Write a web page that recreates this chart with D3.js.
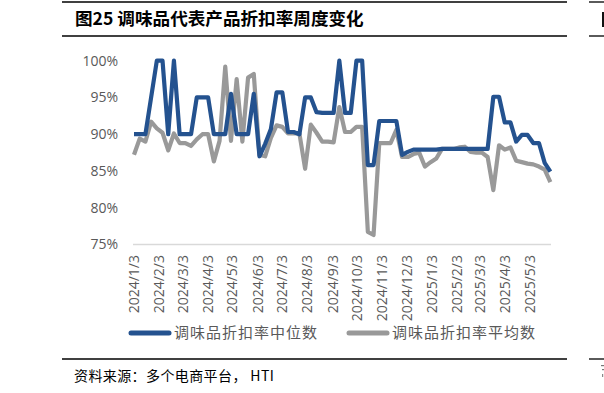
<!DOCTYPE html>
<html>
<head>
<meta charset="utf-8">
<title>调味品代表产品折扣率周度变化</title>
<script src="https://d3js.org/d3.v7.min.js"></script>
<style>
  body { margin: 0; background: #fff; }
  svg { display: block; }
  .cjk { font-family: "Noto Sans CJK SC", sans-serif; }
  .num { font-family: "Open Sans", sans-serif; }
</style>
</head>
<body>
<svg id="chart" width="604" height="393"></svg>
<script>
// weekly observations, first week 2024/1/3
const startDate = "2024/1/3"
const seriesNames = ["调味品折扣率中位数", "调味品折扣率平均数"]

const median = [
  90, 90, 90, 95, 100, 100, 90, 100, 90, 90,
  90, 95, 95, 95, 90, 90, 90, 95.5, 90, 90,
  90, 95.5, 87, 88.7, 90.7, 95.7, 95.7, 90.3, 90.3, 90,
  95, 95, 93, 92.9, 92.9, 92.9, 100, 92.9, 92.9, 100,
  100, 85.8, 85.8, 91.8, 91.8, 91.8, 91.8, 87.2, 87.6, 87.9,
  87.9, 87.9, 87.9, 87.9, 88, 88, 88, 88, 88, 88,
  88, 88, 88, 95.1, 95.1, 91.6, 91.6, 89, 89.9, 89.9,
  88.8, 88.8, 86.1, 84.9
]

const mean = [
  87.2, 89.4, 89, 91.7, 90.8, 90.2, 87.8, 90.1, 88.8, 88.8,
  88.4, 89.3, 90, 90, 86.3, 89.1, 99.2, 89.1, 97.5, 89,
  97.7, 98.2, 87.2, 87, 89.5, 91.2, 91, 90.1, 90.1, 90.1,
  85.3, 91.3, 90.2, 89, 89, 88.9, 93.7, 90.3, 90.3, 91,
  91, 76.7, 76.3, 88.8, 88.8, 88.8, 90.6, 86.9, 86.9, 87.3,
  87.5, 85.6, 86.2, 86.7, 88, 88, 88, 88.2, 88.3, 87.6,
  87.5, 87.5, 86.9, 82.4, 88.5, 87.9, 88.2, 86.4, 86.2, 86,
  85.9, 85.6, 85.2, 83.5
]

const xTickLabels = [
  "2024/1/3", "2024/2/3", "2024/3/3", "2024/4/3", "2024/5/3", "2024/6/3",
  "2024/7/3", "2024/8/3", "2024/9/3", "2024/10/3", "2024/11/3", "2024/12/3",
  "2025/1/3", "2025/2/3", "2025/3/3", "2025/4/3", "2025/5/3"
]
const yTicks = [75, 80, 85, 90, 95, 100]

const parseDate = d3.timeParse("%Y/%m/%d")
const t0 = parseDate(startDate)
const dates = median.map((d, i) => d3.timeDay.offset(t0, 7 * i))

const svg = d3.select("#chart")

// x: 2024/1/3 -> 134, 2025/5/3 -> 530
const x = d3.scaleTime()
  .domain([t0, parseDate("2025/5/3")])
  .range([134, 530])
const y = d3.scaleLinear()
  .domain([75, 100])
  .range([244.5, 60.7])

// frame rules (this panel plus the edge of the next one)
const rules = svg.append("g").attr("stroke", "#000").attr("stroke-width", 1.3)
rules.append("line").attr("x1", 62).attr("x2", 567).attr("y1", 2).attr("y2", 2)
rules.append("line").attr("x1", 62).attr("x2", 567).attr("y1", 36).attr("y2", 36)
rules.append("line").attr("x1", 62).attr("x2", 567).attr("y1", 359).attr("y2", 359)
rules.append("line").attr("x1", 589).attr("x2", 604).attr("y1", 2).attr("y2", 2)
rules.append("line").attr("x1", 589).attr("x2", 604).attr("y1", 36).attr("y2", 36)
rules.append("line").attr("x1", 589).attr("x2", 604).attr("y1", 359).attr("y2", 359)

svg.append("text")
  .attr("class", "cjk")
  .attr("x", 75).attr("y", 25)
  .attr("font-size", 17.6).attr("font-weight", "bold")
  .attr("fill", "#000")
  .text("图25 调味品代表产品折扣率周度变化")

svg.append("text")
  .attr("class", "cjk")
  .attr("x", 74).attr("y", 381)
  .attr("font-size", 14).attr("letter-spacing", 0.4)
  .attr("fill", "#000")
  .text("资料来源：多个电商平台， HTI")

// slivers of the neighbouring panel's title and source glyphs
svg.append("rect").attr("x", 602).attr("y", 12).attr("width", 2).attr("height", 15).attr("fill", "#111")
svg.append("rect").attr("x", 601).attr("y", 365).attr("width", 3).attr("height", 1.2).attr("fill", "#777")
svg.append("rect").attr("x", 602).attr("y", 369).attr("width", 2).attr("height", 1.2).attr("fill", "#777")
svg.append("rect").attr("x", 602).attr("y", 374).attr("width", 1.2).attr("height", 3).attr("fill", "#888")

// y axis labels
svg.append("g")
  .selectAll("text")
  .data(yTicks)
  .join("text")
  .attr("class", "num")
  .attr("x", 118)
  .attr("y", d => y(d))
  .attr("dy", "0.35em")
  .attr("text-anchor", "end")
  .attr("font-size", 14)
  .attr("fill", "#595959")
  .text(d => d + "%")

// baseline
svg.append("line")
  .attr("x1", 133).attr("x2", 551)
  .attr("y1", y(75)).attr("y2", y(75))
  .attr("stroke", "#d9d9d9").attr("stroke-width", 1.5)

// x axis labels, rotated
svg.append("g")
  .selectAll("text")
  .data(xTickLabels)
  .join("text")
  .attr("class", "num")
  .attr("transform", d => `translate(${x(parseDate(d))},255) rotate(-90)`)
  .attr("dy", "0.35em")
  .attr("text-anchor", "end")
  .attr("font-size", 14)
  .attr("fill", "#595959")
  .text(d => d)

const line = d3.line()
  .x((d, i) => x(dates[i]))
  .y(d => y(d))

const colors = ["#24528f", "#999999"]

svg.append("path")
  .datum(mean)
  .attr("d", line)
  .attr("fill", "none")
  .attr("stroke", colors[1])
  .attr("stroke-width", 4.2)
  .attr("stroke-linejoin", "round")

svg.append("path")
  .datum(median)
  .attr("d", line)
  .attr("fill", "none")
  .attr("stroke", colors[0])
  .attr("stroke-width", 4.2)
  .attr("stroke-linejoin", "round")

// legend
const legendX = [129, 347]
const legend = svg.append("g")
  .selectAll("g")
  .data(seriesNames)
  .join("g")
  .attr("transform", (d, i) => `translate(${legendX[i]},333)`)
legend.append("line")
  .attr("x1", 2).attr("x2", 40)
  .attr("stroke", (d, i) => colors[i])
  .attr("stroke-width", 5)
  .attr("stroke-linecap", "round")
legend.append("text")
  .attr("class", "cjk")
  .attr("x", 45)
  .attr("dy", "0.36em")
  .attr("font-size", 15)
  .attr("letter-spacing", 1)
  .attr("fill", "#595959")
  .text(d => d)
</script>
</body>
</html>
